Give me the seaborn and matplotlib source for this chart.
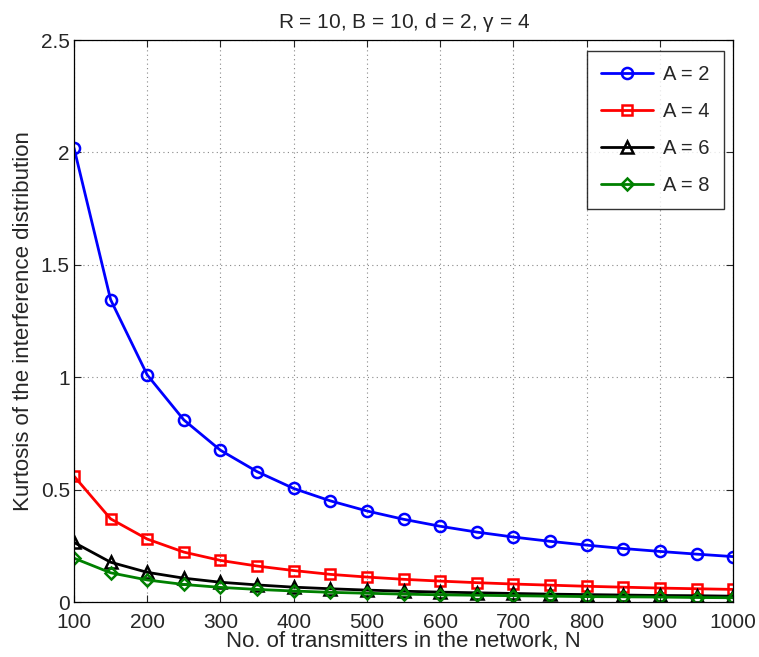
import numpy as np
import pandas as pd
import matplotlib
matplotlib.use("Agg")
import matplotlib.pyplot as plt
import seaborn as sns

# Data
N = [100, 150, 200, 250, 300, 350, 400, 450, 500, 550,
     600, 650, 700, 750, 800, 850, 900, 950, 1000]
kurt_a2 = [2.02, 1.345, 1.01, 0.81, 0.675, 0.58, 0.505, 0.45, 0.405, 0.368,
           0.337, 0.311, 0.289, 0.27, 0.253, 0.238, 0.225, 0.213, 0.202]
kurt_a4 = [0.56, 0.37, 0.28, 0.222, 0.185, 0.16, 0.14, 0.123, 0.111, 0.101,
           0.093, 0.086, 0.08, 0.075, 0.07, 0.066, 0.062, 0.059, 0.056]
kurt_a6 = [0.265, 0.177, 0.132, 0.106, 0.088, 0.076, 0.066, 0.059, 0.053, 0.048,
           0.044, 0.041, 0.038, 0.035, 0.033, 0.031, 0.029, 0.028, 0.026]
kurt_a8 = [0.195, 0.13, 0.098, 0.078, 0.065, 0.056, 0.049, 0.043, 0.039, 0.035,
           0.032, 0.030, 0.028, 0.026, 0.024, 0.023, 0.022, 0.020, 0.019]
labels = ["A = 2", "A = 4", "A = 6", "A = 8"]

sns.set_theme(style="ticks")
plt.rcParams['font.family'] = ['Liberation Sans', 'DejaVu Sans']
plt.rcParams['mathtext.fontset'] = 'custom'
plt.rcParams['mathtext.rm'] = 'Liberation Sans'
plt.rcParams['mathtext.it'] = 'Liberation Sans'

fig = plt.figure(figsize=(7.59, 6.57), dpi=100)
ax = fig.add_axes([0.0975, 0.0837, 0.8685, 0.8553])

styles = [("blue", "o"), ("red", "s"), ("black", "^"), ("green", "D")]
for vals, lab, (col, mk) in zip([kurt_a2, kurt_a4, kurt_a6, kurt_a8], labels, styles):
    df = pd.DataFrame({"N": N, "k": vals})
    ms = 8 if mk != "D" else 6.5
    if mk == "s":
        ms = 7
    sns.lineplot(data=df, x="N", y="k", ax=ax, color=col, marker=mk, markersize=ms,
                 markerfacecolor="none", markeredgecolor=col, markeredgewidth=1.8,
                 linewidth=2.0, label=lab)

ax.set_xlim(100, 1000)
ax.set_ylim(0, 2.5)
ax.set_xticks(np.arange(100, 1001, 100))
ax.set_yticks([0, 0.5, 1, 1.5, 2, 2.5])
ax.set_yticklabels(["0", "0.5", "1", "1.5", "2", "2.5"])
ax.grid(True, linestyle=(0, (1, 3)), color="#888888", linewidth=0.8)
ax.tick_params(direction="in", top=True, right=True, labelsize=15, length=5, width=0.8)
ax.tick_params(axis="x", pad=8)
ax.tick_params(axis="y", pad=3)
for s in ax.spines.values():
    s.set_color("black")
    s.set_linewidth(0.9)

ax.set_xlabel("No. of transmitters in the network, N", fontsize=16, labelpad=-1)
ax.set_ylabel("Kurtosis of the interference distribution", fontsize=16, labelpad=5)
ax.set_title(r"R = 10, B = 10, d = 2, $\gamma$ = 4", fontsize=15, pad=9)

leg = ax.legend(loc="upper right", fontsize=14.5, frameon=True, fancybox=False,
                edgecolor="black", handlelength=2.6, labelspacing=0.9,
                borderpad=0.7, handletextpad=0.5, borderaxespad=0,
                bbox_to_anchor=(0.986, 0.981))
leg.get_frame().set_linewidth(1.0)

fig.savefig("out.png", dpi=100)
